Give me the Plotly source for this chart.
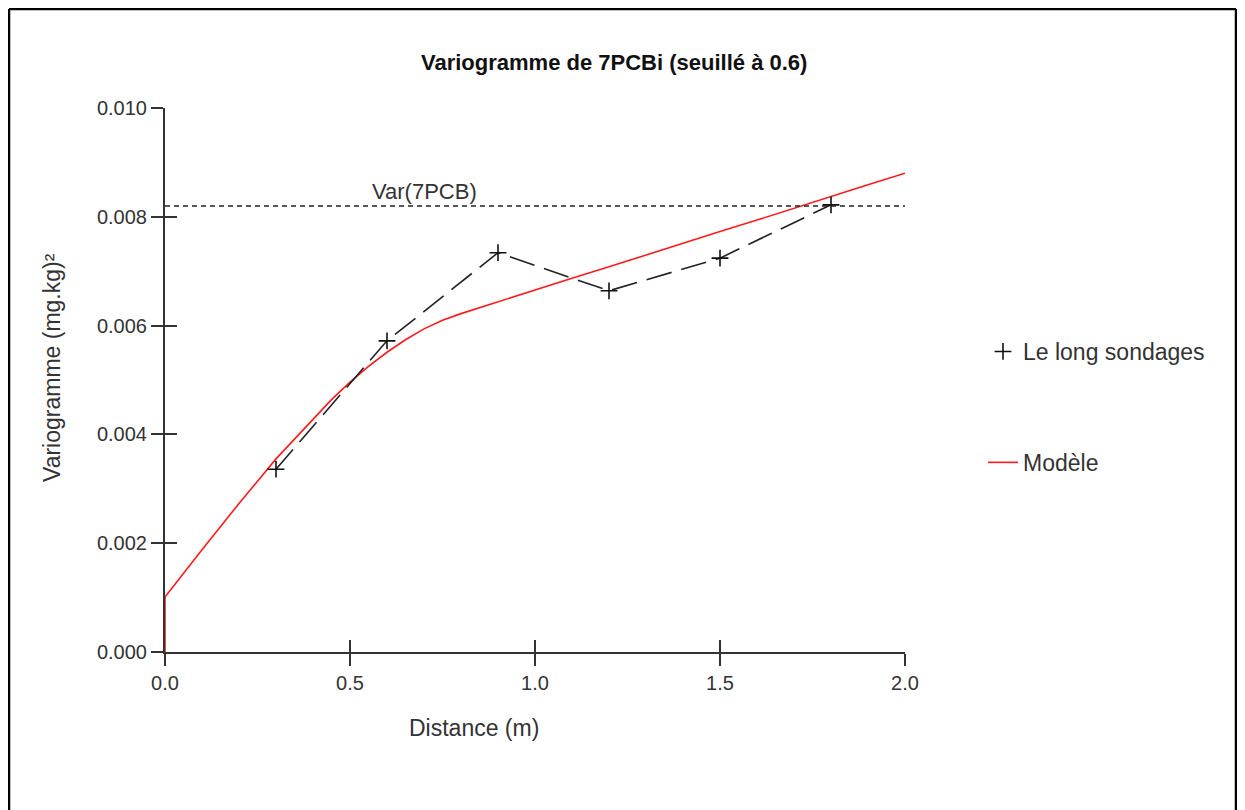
import plotly.graph_objects as go

exp_x = [0.3, 0.6, 0.9, 1.2, 1.5, 1.8]
exp_y = [0.00336, 0.00572, 0.00734, 0.00664, 0.00724, 0.00822]

# Fitted model
model_x = [0.0, 0.0, 0.1, 0.2, 0.3, 0.4, 0.45, 0.5, 0.55, 0.6, 0.65, 0.7, 0.75,
           0.8, 0.9, 1.0, 1.1, 1.2, 1.3, 1.4, 1.5, 1.6, 1.7, 1.8, 1.9, 2.0]
model_y = [0.0, 0.00101, 0.00188, 0.00273, 0.00355, 0.00429, 0.00464, 0.00496,
           0.00525, 0.00551, 0.00574, 0.00594, 0.00610, 0.00622, 0.00644, 0.00665,
           0.00687, 0.00708, 0.00730, 0.00751, 0.00773, 0.00794, 0.00816, 0.00837,
           0.00859, 0.00880]

# Sample variance
var_x = [0.0, 2.0]
var_value = 0.0082
var_label = "Var(7PCB)"

x_ticks = [0.0, 0.5, 1.0, 1.5, 2.0]
x_ticktext = ["0.0", "0.5", "1.0", "1.5", "2.0"]
y_ticks = [0.000, 0.002, 0.004, 0.006, 0.008, 0.010]
y_ticktext = ["0.000", "0.002", "0.004", "0.006", "0.008", "0.010"]

FONT = "Liberation Sans, Arial, sans-serif"
TXT = "#333333"
AX = "#333333"

# target pixel layout (screen coordinates of the reference)
L, R, T, B = 165, 905, 108, 652
OFF = 8  # page body margin
W, H = 1229, 810
pw, ph = R - L, B - T


def px(xp):
    return (xp - L) / pw


def py(yp):
    return (B - yp) / ph


fig = go.Figure()

fig.add_trace(go.Scatter(x=var_x, y=[var_value, var_value], mode="lines",
                         line=dict(color="#222222", width=1.5, dash="5px,4px"),
                         showlegend=False, hoverinfo="skip",
                         xaxis="x2", yaxis="y2"))

fig.add_trace(go.Scatter(x=model_x, y=model_y, mode="lines", name="Modèle",
                         line=dict(color="#ff1a1a", width=1.6),
                         legendgroup="b", legendrank=2, cliponaxis=False))

fig.add_trace(go.Scatter(x=exp_x, y=exp_y, mode="lines",
                         line=dict(color="#222222", width=1.6, dash="26px,10px"),
                         showlegend=False, hoverinfo="skip"))

fig.add_trace(go.Scatter(x=exp_x, y=exp_y, mode="markers", name="Le long sondages",
                         marker=dict(symbol="cross-thin", size=12,
                                     line=dict(color="#111111", width=1.6)),
                         legendgroup="a", legendrank=1))

fig.add_annotation(x=0.70, y=var_value, xref="x", yref="y", text=var_label,
                   showarrow=False, xanchor="center", yanchor="bottom", yshift=0,
                   font=dict(family=FONT, size=22, color=TXT))

fig.add_annotation(x=px(614), y=py(62), xref="paper", yref="paper",
                   xanchor="center", yanchor="middle",
                   text="<b>Variogramme de 7PCBi (seuillé à 0.6)</b>", showarrow=False,
                   font=dict(family=FONT, size=22, color="#111111"))
fig.add_annotation(x=px(474), y=py(728), xref="paper", yref="paper",
                   xanchor="center", yanchor="middle",
                   text="Distance (m)", showarrow=False,
                   font=dict(family=FONT, size=23, color=TXT))
fig.add_annotation(x=px(52), y=py(368), xref="paper", yref="paper",
                   xanchor="center", yanchor="middle",
                   text="Variogramme (mg.kg)²", showarrow=False, textangle=-90,
                   font=dict(family=FONT, size=23, color=TXT))

# frame (left, top, right edges; bottom lies outside the picture)
fx0, fx1, fy0, fy1 = px(9), px(1236), py(9), py(860)
for (a, b, c, d) in [(fx0, fy1, fx0, fy0), (fx0, fy0, fx1, fy0), (fx1, fy0, fx1, fy1)]:
    fig.add_shape(type="line", xref="paper", yref="paper", x0=a, y0=b, x1=c, y1=d,
                  line=dict(color="black", width=2.5), layer="above")

axis_common = dict(showgrid=False, zeroline=False, showline=True, linecolor=AX,
                   linewidth=2, tickcolor=AX, tickwidth=2, ticklen=12,
                   layer="below traces")

fig.update_layout(
    width=W, height=H,
    margin=dict(l=L - OFF, r=W - (R - OFF), t=T - OFF, b=H - (B - OFF), pad=0),
    paper_bgcolor="white", plot_bgcolor="white",
    font=dict(family=FONT, size=20, color=TXT),
    xaxis=dict(range=[0, 2.0], tickmode="array", tickvals=x_ticks, ticktext=x_ticktext,
               ticks="outside", tickfont=dict(size=20, color=TXT), **axis_common),
    yaxis=dict(range=[0, 0.010], tickmode="array", tickvals=y_ticks, ticktext=y_ticktext,
               ticks="outside", tickfont=dict(size=20, color=TXT), **axis_common),
    xaxis2=dict(range=[0, 2.0], overlaying="x", anchor="y2", side="bottom",
                tickmode="array", tickvals=x_ticks, showticklabels=False,
                ticks="inside", **axis_common),
    yaxis2=dict(range=[0, 0.010], overlaying="y", anchor="x2", side="left",
                tickmode="array", tickvals=y_ticks, showticklabels=False,
                ticks="inside", **axis_common),
    legend=dict(x=px(983), y=py(330), xanchor="left", yanchor="top",
                font=dict(family=FONT, size=23, color=TXT),
                tracegroupgap=78, traceorder="grouped",
                bgcolor="rgba(0,0,0,0)"),
    showlegend=True,
)

fig.write_html("out.html")
